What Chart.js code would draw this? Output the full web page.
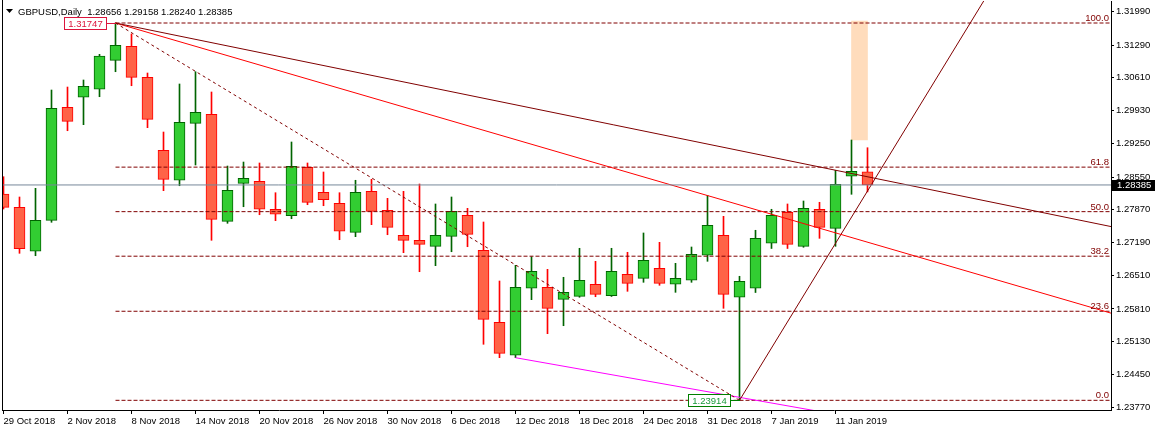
<!DOCTYPE html>
<html>
<head>
<meta charset="utf-8">
<script src="https://cdn.jsdelivr.net/npm/chart.js@4.4.0/dist/chart.umd.min.js"></script>
<style>
  html, body { margin: 0; padding: 0; background: #fff; }
  canvas { display: block; }
</style>
</head>
<body>
<canvas id="chart" width="1157" height="431"></canvas>
<script>
const symbol = "GBPUSD";
const period = "Daily";

const dates = [
  "29 Oct 2018", "30 Oct 2018", "31 Oct 2018", "1 Nov 2018", "2 Nov 2018",
  "5 Nov 2018", "6 Nov 2018", "7 Nov 2018", "8 Nov 2018", "9 Nov 2018",
  "12 Nov 2018", "13 Nov 2018", "14 Nov 2018", "15 Nov 2018", "16 Nov 2018",
  "19 Nov 2018", "20 Nov 2018", "21 Nov 2018", "22 Nov 2018", "23 Nov 2018",
  "26 Nov 2018", "27 Nov 2018", "28 Nov 2018", "29 Nov 2018", "30 Nov 2018",
  "3 Dec 2018", "4 Dec 2018", "5 Dec 2018", "6 Dec 2018", "7 Dec 2018",
  "10 Dec 2018", "11 Dec 2018", "12 Dec 2018", "13 Dec 2018", "14 Dec 2018",
  "17 Dec 2018", "18 Dec 2018", "19 Dec 2018", "20 Dec 2018", "21 Dec 2018",
  "24 Dec 2018", "26 Dec 2018", "27 Dec 2018", "28 Dec 2018", "31 Dec 2018",
  "2 Jan 2019", "3 Jan 2019", "4 Jan 2019", "7 Jan 2019", "8 Jan 2019",
  "9 Jan 2019", "10 Jan 2019", "11 Jan 2019", "14 Jan 2019", "15 Jan 2019"
];

const open = [
  1.28197, 1.27921, 1.27008, 1.27651, 1.29997, 1.30205, 1.30371, 1.30973, 1.31263, 1.30620,
  1.29104, 1.28482, 1.29665, 1.29852, 1.27630, 1.28419, 1.28461, 1.27880, 1.27747, 1.28751,
  1.28232, 1.28004, 1.27402, 1.28253, 1.27859, 1.27340, 1.27236, 1.27111, 1.27319, 1.27755,
  1.27028, 1.25534, 1.24849, 1.26240, 1.26260, 1.26011, 1.26073, 1.26323, 1.26086, 1.26530,
  1.26447, 1.26655, 1.26323, 1.26406, 1.26925, 1.27340, 1.26053, 1.26240, 1.27174, 1.27817,
  1.27111, 1.27880, 1.27485, 1.28565, 1.28656
];
const high = [
  1.28556, 1.28135, 1.28315, 1.30356, 1.30418, 1.30564, 1.31097, 1.31747, 1.31519, 1.30709,
  1.29484, 1.30481, 1.30736, 1.30315, 1.28778, 1.28861, 1.28841, 1.28224, 1.29277, 1.28841,
  1.28654, 1.28224, 1.28482, 1.28502, 1.28108, 1.28253, 1.28405, 1.27990, 1.28135, 1.27900,
  1.27616, 1.26391, 1.26717, 1.26895, 1.26634, 1.26468, 1.27070, 1.26800, 1.27070, 1.26987,
  1.27388, 1.27194, 1.26758, 1.27097, 1.28170, 1.27734, 1.26489, 1.27444, 1.27880, 1.27990,
  1.28052, 1.28025, 1.28689, 1.29318, 1.29158
];
const low = [
  1.27886, 1.26966, 1.26916, 1.27610, 1.29511, 1.29636, 1.30217, 1.30736, 1.30445, 1.29574,
  1.28266, 1.28369, 1.28799, 1.27236, 1.27589, 1.27933, 1.27767, 1.27643, 1.27684, 1.27975,
  1.27954, 1.27248, 1.27311, 1.27560, 1.27352, 1.26979, 1.26584, 1.26709, 1.26999, 1.27103,
  1.25077, 1.24799, 1.24799, 1.26003, 1.25297, 1.25463, 1.26053, 1.26065, 1.26070, 1.26177,
  1.26364, 1.26302, 1.26156, 1.26364, 1.26800, 1.25824, 1.23914, 1.26152, 1.27066, 1.27066,
  1.27091, 1.27277, 1.27111, 1.28191, 1.28240
];
const close = [
  1.27921, 1.27062, 1.27651, 1.29976, 1.29706, 1.30433, 1.31062, 1.31284, 1.30620, 1.29748,
  1.28502, 1.29686, 1.29893, 1.27672, 1.28274, 1.28523, 1.27880, 1.27776, 1.28772, 1.28025,
  1.28079, 1.27423, 1.28232, 1.27838, 1.27506, 1.27236, 1.27153, 1.27340, 1.27838, 1.27360,
  1.25596, 1.24890, 1.26260, 1.26592, 1.25824, 1.26156, 1.26406, 1.26115, 1.26592, 1.26343,
  1.26821, 1.26343, 1.26447, 1.26945, 1.27547, 1.26115, 1.26385, 1.27277, 1.27755, 1.27153,
  1.27900, 1.27506, 1.28399, 1.28670, 1.28385
];

const xTickLabels = [
  "29 Oct 2018", "2 Nov 2018", "8 Nov 2018", "14 Nov 2018", "20 Nov 2018", "26 Nov 2018",
  "30 Nov 2018", "6 Dec 2018", "12 Dec 2018", "18 Dec 2018", "24 Dec 2018", "31 Dec 2018",
  "7 Jan 2019", "11 Jan 2019"
];
const yTickLabels = [
  "1.31990", "1.31290", "1.30610", "1.29930", "1.29250", "1.28550", "1.27870",
  "1.27190", "1.26510", "1.25810", "1.25130", "1.24450", "1.23770"
];

// fibonacci retracement (drawn from the 7 Nov high to the 3 Jan low)
const fibLevels = ["100.0", "61.8", "50.0", "38.2", "23.6", "0.0"];
const fibPrices = [1.31747, 1.28755, 1.27831, 1.26906, 1.25763, 1.23914];
const fibFrom = 7, fibTo = 70;
const fibDiagX = [7, 46];
const fibDiagY = [1.31747, 1.23914];

// trend lines, [bar index, price]
const maroonLineX = [7, 70];
const maroonLineY = [1.31747, 1.27468];
const redLineX = [7, 70];
const redLineY = [1.31747, 1.25648];
const upLineX = [46, 62];
const upLineY = [1.23914, 1.32604];
const magentaLineX = [32, 51];
const magentaLineY = [1.24799, 1.23682];

// rectangle over the last bars
const boxX = 53.5;
const boxY = [1.29318, 1.31789];

const bidPrice = 1.28385;

const X_MIN = -0.09375, X_MAX = 69.21875;
const Y_MIN = 1.23713, Y_MAX = 1.32204;

const up = close.map((c, i) => c >= open[i]);
const pts = (xs, ys) => xs.map((x, i) => ({ x: x, y: ys[i] }));

Chart.defaults.font.family = '"Liberation Sans", Arial, sans-serif';
Chart.defaults.font.size = 9.5;
Chart.defaults.color = "#000";

const lineDs = (data, color, dash) => ({
  type: "line",
  data: data,
  borderColor: color,
  borderWidth: 1,
  borderDash: dash || [],
  pointRadius: 0,
  tension: 0,
  fill: false,
  order: 1,
});

const datasets = [
  {
    data: [{ x: boxX, y: boxY }],
    backgroundColor: "#ffdcbc",
    borderWidth: 0,
    barThickness: 16,
    grouped: false,
    order: 20,
  },
  {
    data: dates.map((d, i) => ({ x: i, y: [low[i], high[i]] })),
    backgroundColor: up.map(u => (u ? "#006400" : "#ff0000")),
    borderWidth: 0,
    barThickness: 1,
    grouped: false,
    order: 11,
  },
  {
    data: dates.map((d, i) => ({ x: i, y: [open[i], close[i]] })),
    backgroundColor: up.map(u => (u ? "#32cd32" : "#ff6347")),
    borderColor: up.map(u => (u ? "#006400" : "#ff0000")),
    borderWidth: 1,
    borderSkipped: false,
    barThickness: 11,
    grouped: false,
    order: 10,
  },
  lineDs([{ x: X_MIN - 1, y: bidPrice }, { x: X_MAX + 1, y: bidPrice }], "#778899"),
  lineDs(pts(fibDiagX, fibDiagY), "#800000", [3, 3]),
  lineDs(pts(maroonLineX, maroonLineY), "#800000"),
  lineDs(pts(redLineX, redLineY), "#ff0000"),
  lineDs(pts(upLineX, upLineY), "#800000"),
  lineDs(pts(magentaLineX, magentaLineY), "#ff00ff"),
];
fibPrices.forEach(p => {
  datasets.push(lineDs([{ x: fibFrom, y: p }, { x: fibTo, y: p }], "#800000", [4, 2]));
});

const overlay = {
  id: "overlay",
  afterDraw(chart) {
    const { ctx, chartArea: a, scales: { x, y } } = chart;
    ctx.save();

    // left frame
    ctx.strokeStyle = "#000";
    ctx.lineWidth = 1;
    ctx.beginPath();
    ctx.moveTo(a.left + 0.5, 0);
    ctx.lineTo(a.left + 0.5, a.bottom);
    ctx.stroke();

    // header
    ctx.fillStyle = "#000";
    ctx.beginPath();
    ctx.moveTo(6, 9);
    ctx.lineTo(13, 9);
    ctx.lineTo(9.5, 13);
    ctx.closePath();
    ctx.fill();
    const n = close.length - 1;
    const header = symbol + "," + period + "  " +
      [open[n], high[n], low[n], close[n]].map(v => v.toFixed(5)).join(" ");
    ctx.font = '9.5px "Liberation Sans", Arial, sans-serif';
    ctx.textAlign = "left";
    ctx.textBaseline = "alphabetic";
    ctx.fillText(header, 18, 15);

    // fibo level labels
    ctx.fillStyle = "#800000";
    ctx.textAlign = "right";
    fibLevels.forEach((l, i) => {
      ctx.fillText(l, a.right - 2, y.getPixelForValue(fibPrices[i]) - 2);
    });

    // price labels at the swing high / low
    const tag = (idx, price, color, textColor) => {
      const px = Math.round(x.getPixelForValue(idx));
      const py = Math.round(y.getPixelForValue(price)) + 0.5;
      const txt = price.toFixed(5);
      const w = Math.round(ctx.measureText(txt).width) + 8;
      const r = px - 10;
      ctx.strokeStyle = color;
      ctx.fillStyle = "#fff";
      ctx.fillRect(r - w, py - 6, w, 12);
      ctx.strokeRect(r - w + 0.5, py - 6, w, 12);
      ctx.beginPath();
      ctx.moveTo(r, py);
      ctx.lineTo(px, py);
      ctx.stroke();
      ctx.fillStyle = textColor;
      ctx.textAlign = "center";
      ctx.textBaseline = "middle";
      ctx.fillText(txt, r - w / 2 + 0.5, py + 0.5);
    };
    tag(7, 1.31747, "#dc143c", "#dc143c");
    tag(46, 1.23914, "#008000", "#1a9a3a");

    // bid price box on the axis
    const by = Math.round(y.getPixelForValue(bidPrice));
    ctx.fillStyle = "#000";
    ctx.fillRect(a.right + 1, by - 5, 43, 11);
    ctx.fillStyle = "#fff";
    ctx.textAlign = "left";
    ctx.textBaseline = "middle";
    ctx.fillText(bidPrice.toFixed(5), a.right + 6, by + 0.5);

    ctx.restore();
  },
};

new Chart(document.getElementById("chart"), {
  type: "bar",
  data: { datasets: datasets },
  options: {
    responsive: false,
    animation: false,
    devicePixelRatio: 1,
    events: [],
    layout: { padding: { left: 2, top: 1, right: 0, bottom: 0 } },
    plugins: {
      legend: { display: false },
      tooltip: { enabled: false },
    },
    scales: {
      x: {
        type: "linear",
        min: X_MIN,
        max: X_MAX,
        offset: false,
        afterBuildTicks: s => {
          s.ticks = xTickLabels.map(l => ({ value: dates.indexOf(l) }));
        },
        afterFit: s => {
          s.height = 21;
          s.paddingLeft = 0;
          s.paddingRight = 0;
        },
        ticks: {
          callback: v => dates[v],
          align: "start",
          maxRotation: 0,
          autoSkip: false,
          padding: 2,
          color: "#000",
        },
        grid: { display: true, drawOnChartArea: false, offset: false, tickLength: 4, color: "#000" },
        border: { display: true, color: "#000" },
      },
      y: {
        type: "linear",
        position: "right",
        min: Y_MIN,
        max: Y_MAX,
        afterBuildTicks: s => {
          s.ticks = yTickLabels.map(t => ({ value: parseFloat(t) }));
        },
        afterFit: s => {
          s.width = 46;
          s.paddingTop = 0;
          s.paddingBottom = 0;
        },
        ticks: {
          callback: (v, i) => yTickLabels[i],
          autoSkip: false,
          padding: 2,
          color: "#000",
        },
        grid: { display: true, drawOnChartArea: false, tickLength: 3, color: "#000" },
        border: { display: true, color: "#000" },
      },
    },
  },
  plugins: [overlay],
});
</script>
</body>
</html>
